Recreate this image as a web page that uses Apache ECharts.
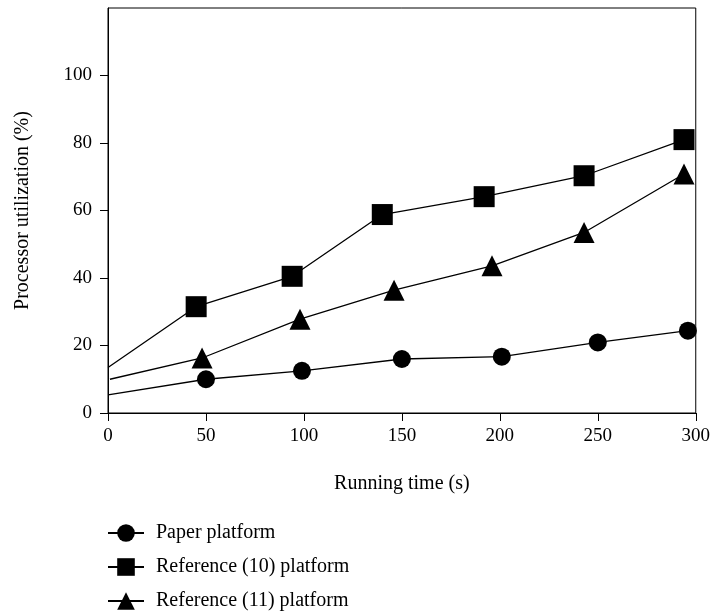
<!DOCTYPE html>
<html>
<head>
<meta charset="utf-8">
<script src="https://cdn.jsdelivr.net/npm/echarts@6/dist/echarts.min.js"></script>
<style>html,body{margin:0;padding:0;background:#fff}#c{width:713px;height:614px}</style>
</head>
<body>
<div id="c"></div>
<script>
var seriesNames = ['Paper platform', 'Reference (10) platform', 'Reference (11) platform'];
var paperX = [0, 50, 99, 150, 201, 250, 296];
var paperY = [5.4, 10.0, 12.5, 16.0, 16.7, 20.9, 24.4];
var ref10X = [0, 45, 94, 140, 192, 243, 294];
var ref10Y = [13.5, 31.5, 40.5, 58.8, 64.1, 70.3, 81.0];
var ref11X = [1, 48, 98, 146, 196, 243, 294];
var ref11Y = [10.0, 16.3, 27.8, 36.4, 43.6, 53.5, 70.8];
var xTicks = [0, 50, 100, 150, 200, 250, 300];
var yTicks = [0, 20, 40, 60, 80, 100];

var FONT = '"Liberation Serif", "DejaVu Serif", serif';

function pts(xs, ys) {
  return xs.map(function (x, i) {
    var item = { value: [x, ys[i]] };
    if (i === 0) item.symbol = 'none';
    return item;
  });
}

function mk(name, xs, ys, symbol, size) {
  return {
    name: name,
    type: 'line',
    data: pts(xs, ys),
    symbol: symbol,
    symbolSize: size,
    showAllSymbol: true,
    lineStyle: { color: '#000', width: 1.3 },
    itemStyle: { color: '#000' },
    emphasis: { disabled: true },
    animation: false
  };
}

var chart = echarts.init(document.getElementById('c'), null, { renderer: 'canvas' });
chart.setOption({
  backgroundColor: '#fff',
  animation: false,
  textStyle: { fontFamily: FONT },
  grid: {
    left: 108, right: 16, top: 8, bottom: 201,
    show: true, borderColor: '#000', borderWidth: 1
  },
  xAxis: {
    type: 'value', min: 0, max: 300, interval: 50,
    name: 'Running time (s)', nameLocation: 'middle', nameGap: 61,
    nameTextStyle: { fontFamily: FONT, fontSize: 20, color: '#000' },
    axisLine: { show: true, lineStyle: { color: '#000', width: 1 } },
    axisTick: { show: true, length: 8, lineStyle: { color: '#000' }, customValues: xTicks },
    axisLabel: { fontFamily: FONT, fontSize: 19, color: '#000', margin: 14, customValues: xTicks },
    splitLine: { show: false }
  },
  yAxis: {
    type: 'value', min: 0, max: 120, interval: 20,
    name: 'Processor utilization (%)', nameLocation: 'middle', nameGap: 75,
    nameTextStyle: { fontFamily: FONT, fontSize: 20, color: '#000' },
    axisLine: { show: true, lineStyle: { color: '#000', width: 1 } },
    axisTick: { show: true, length: 8, lineStyle: { color: '#000' }, customValues: yTicks },
    axisLabel: { fontFamily: FONT, fontSize: 19, color: '#000', margin: 16, customValues: yTicks },
    splitLine: { show: false }
  },
  legend: {
    orient: 'vertical', left: 107, top: 523, padding: 0,
    itemWidth: 36, itemHeight: 22, itemGap: 14,
    textStyle: { fontFamily: FONT, fontSize: 20, color: '#000', padding: [0, 0, 0, 7] },
    data: seriesNames
  },
  series: [
    mk(seriesNames[0], paperX, paperY, 'circle', 18),
    mk(seriesNames[1], ref10X, ref10Y, 'rect', 21),
    mk(seriesNames[2], ref11X, ref11Y, 'triangle', 21)
  ]
});
</script>
</body>
</html>
